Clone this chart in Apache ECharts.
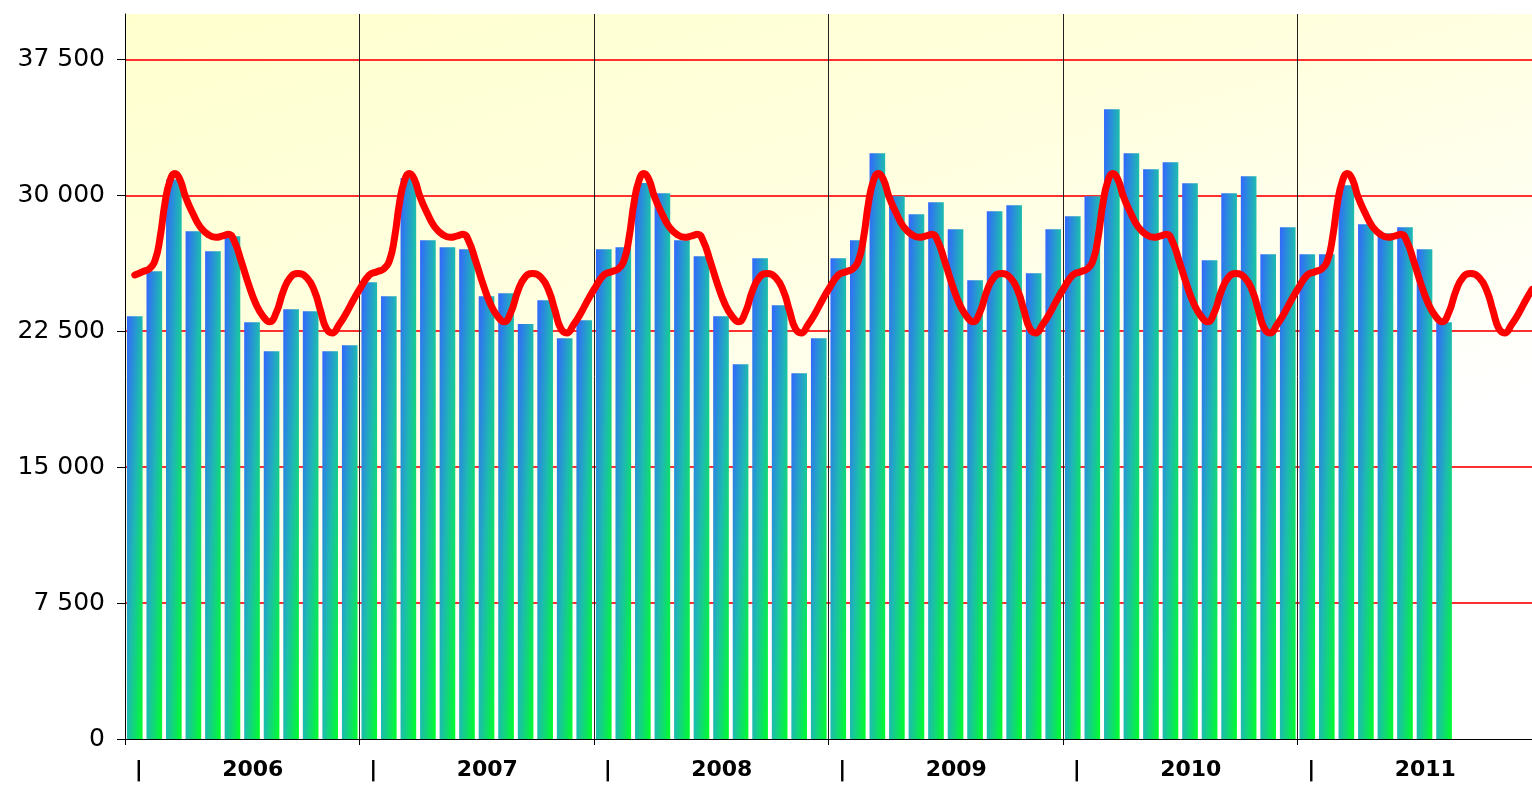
<!DOCTYPE html>
<html>
<head>
<meta charset="utf-8">
<script src="https://cdn.jsdelivr.net/npm/echarts@6/dist/echarts.min.js"></script>
<style>
html,body{margin:0;padding:0;background:#ffffff;}
#c{width:1532px;height:786px;}
</style>
</head>
<body>
<div id="c"></div>
<script>
// ---------- data ----------
const years = ['2006', '2007', '2008', '2009', '2010', '2011'];
const monthNames = ['01','02','03','04','05','06','07','08','09','10','11','12'];

// monthly bars, Jan 2006 .. Aug 2011
const barValues = [
  23330, 25810, 30870, 28010, 26910, 27740, 23000, 21400, 23710, 23600, 21400, 21730,
  25200, 24430, 30950, 27520, 27130, 27020, 24430, 24600, 22890, 24210, 22110, 23110,
  27020, 27130, 30680, 30110, 27520, 26640, 23330, 20680, 26530, 23930, 20180, 22110,
  26530, 27520, 32320, 29950, 28950, 29610, 28130, 25310, 29120, 29450, 25700, 28130,
  28840, 29950, 34740, 32320, 31430, 31820, 30660, 26420, 30110, 31050, 26750, 28240,
  26750, 26750, 30550, 28400, 27900, 28240, 27020, 23000
];

// seasonal red curve: the same yearly profile is drawn in every year
// (position within the year in months, value)
const normOffsets = [0.5, 0.9, 1.25, 1.55, 1.8, 2.05, 2.3, 2.55, 2.8, 3.1, 3.45, 3.85,
  4.3, 4.65, 5.0, 5.3, 5.6, 5.95, 6.35, 6.7, 7.05, 7.4, 7.75, 8.1, 8.45, 8.85,
  9.3, 9.7, 10.0, 10.3, 10.6, 10.95, 11.35, 11.7, 12.0];
const normValues = [25600, 25780, 25950, 26450, 27700, 29600, 30800, 31200, 30900, 29900, 29050, 28250,
  27800, 27680, 27760, 27850, 27450, 26350, 25000, 24000, 23350, 23020, 23550, 24700, 25450, 25680,
  25450, 24700, 23650, 22650, 22400, 22850, 23550, 24250, 24800];

const yTicks = [0, 7500, 15000, 22500, 30000, 37500];
const yMax = 40000;
const yStep = 7500;

// ---------- build ----------
const months = [];
years.forEach(y => monthNames.forEach(m => months.push(y + '-' + m)));

const lineData = [];
years.forEach((y, yi) => {
  normOffsets.forEach((o, j) => lineData.push([yi * 12 + o, normValues[j]]));
});

const barStops = [
  {offset: 0, color: '#3366FF'},
  {offset: 0.5, color: '#1DBBB0'},
  {offset: 1, color: '#00FF2A'}
];

function fmt(v) {
  if (v % yStep !== 0) return '';
  return String(v).replace(/\B(?=(\d{3})+(?!\d))/g, ' ');
}

const chart = echarts.init(document.getElementById('c'), null, {renderer: 'canvas'});

// ticks: 0, 7500 ... 37500, 40000 -> no grid line at 0 and at the top edge
const RED = '#FF3030';
const gridColors = ['rgba(255,0,0,0)', RED, RED, RED, RED, RED, 'rgba(255,0,0,0)'];

const option = {
  animation: false,
  backgroundColor: '#ffffff',
  grid: {
    left: 125, right: 0, top: 14, bottom: 47,
    show: true, borderWidth: 0,
    backgroundColor: new echarts.graphic.LinearGradient(0, 0, 0.15, 1, [
      {offset: 0, color: '#FFFFCE'},
      {offset: 0.5, color: '#FFFFE0'},
      {offset: 1, color: '#FFFFFF'}
    ])
  },
  xAxis: [
    {
      type: 'category', data: months, boundaryGap: true,
      axisLine: {show: true, lineStyle: {color: '#000', width: 1}},
      axisTick: {show: false}, axisLabel: {show: false}, splitLine: {show: false}
    },
    {
      type: 'category', data: years, position: 'bottom', boundaryGap: true,
      axisLine: {show: false},
      axisTick: {show: true, length: 6, lineStyle: {color: '#000', width: 1}},
      axisLabel: {
        interval: 0, margin: 20,
        formatter: v => '{p||}{y|' + v + '}',
        rich: {
          p: {width: 21, align: 'left', fontFamily: 'DejaVu Sans', fontWeight: 'bold', fontSize: 22, color: '#000'},
          y: {width: 194, align: 'center', fontFamily: 'DejaVu Sans', fontWeight: 'bold', fontSize: 22, color: '#000'}
        }
      },
      splitLine: {show: true, lineStyle: {color: '#222', width: 1}}
    },
    {type: 'value', min: 0, max: 72, show: false}
  ],
  yAxis: {
    type: 'value', min: 0, max: yMax, interval: yStep,
    axisLine: {show: true, lineStyle: {color: '#000', width: 1}},
    axisTick: {show: true, length: 8, customValues: yTicks},
    axisLabel: {
      formatter: v => fmt(v),
      fontFamily: 'DejaVu Sans', fontSize: 25, color: '#000', margin: 20
    },
    splitLine: {show: true, lineStyle: {color: gridColors, width: 2, type: 'solid'}}
  },
  series: [
    {
      type: 'bar', xAxisIndex: 0, yAxisIndex: 0,
      data: barValues, barCategoryGap: '20%',
      itemStyle: {color: '#1DBBB0'}, z: 2
    },
    {
      type: 'line', xAxisIndex: 2, yAxisIndex: 0,
      data: lineData, smooth: 0.5, symbol: 'none',
      lineStyle: {color: '#FF0000', width: 7, cap: 'round', join: 'round'}, z: 3
    }
  ]
};

chart.setOption(option);

// per-bar diagonal gradient (colour follows x/w + y/h inside every bar)
const barData = chart.getModel().getSeriesByIndex(0).getData();
const styled = barValues.map((v, i) => {
  const lay = barData.getItemLayout(i);
  const w = Math.abs(lay.width), h = Math.abs(lay.height);
  const d = w * w + h * h;
  return {
    value: v,
    itemStyle: {color: new echarts.graphic.LinearGradient(0, 0, 2 * h * h / d, 2 * w * w / d, barStops)}
  };
});
chart.setOption({series: [{data: styled}]});
</script>
</body>
</html>
